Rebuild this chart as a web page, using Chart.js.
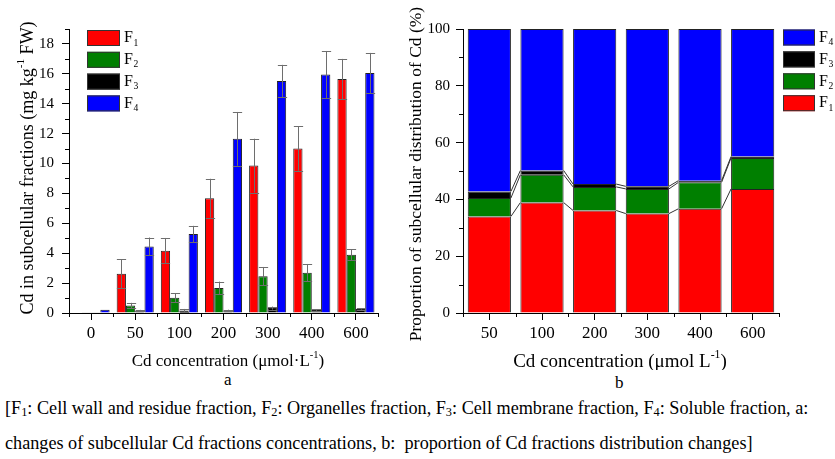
<!DOCTYPE html>
<html>
<head>
<meta charset="utf-8">
<script src="https://cdn.jsdelivr.net/npm/chart.js@4.4.1/dist/chart.umd.min.js"></script>
<style>
  html, body { margin: 0; padding: 0; background: #fff; }
  body { width: 835px; height: 459px; position: relative; overflow: hidden;
         font-family: 'Liberation Serif', 'Times New Roman', serif; color: #000; }
  #chartA { position: absolute; left: 0; top: 0; }
  #chartB { position: absolute; left: 400px; top: 0; }
  .panel { position: absolute; font-size: 17px; white-space: nowrap; }
  .cap { position: absolute; left: 5px; font-size: 18.2px; white-space: nowrap; }
  .cap sub { font-size: 0.68em; vertical-align: -0.2em; line-height: 0; }
</style>
</head>
<body>
<canvas id="chartA" width="400" height="370"></canvas>
<canvas id="chartB" width="435" height="370"></canvas>
<div class="panel" style="left:224px;top:370px">a</div>
<div class="panel" style="left:615px;top:373px">b</div>
<div class="cap" style="top:398px">[F<sub>1</sub>: Cell wall and residue fraction, F<sub>2</sub>: Organelles fraction, F<sub>3</sub>: Cell membrane fraction, F<sub>4</sub>: Soluble fraction, a:</div>
<div class="cap" style="top:433px">changes of subcellular Cd fractions concentrations, b:&nbsp; proportion of Cd fractions distribution changes]</div>

<script>
// ---- Panel a: Cd concentration in each subcellular fraction (mg kg-1 FW) ----
const concLabels = ['0', '50', '100', '200', '300', '400', '600'];
const f1Conc = [0.03, 2.62, 4.17, 7.68, 9.86, 11.0, 15.65];
const f1Err  = [0, 0.98, 0.85, 1.3, 1.8, 1.48, 1.35];
const f2Conc = [0.02, 0.5, 1.02, 1.68, 2.46, 2.7, 3.9];
const f2Err  = [0, 0.18, 0.3, 0.42, 0.62, 0.58, 0.38];
const f3Conc = [0.01, 0.17, 0.17, 0.18, 0.33, 0.2, 0.27];
const f3Err  = [0, 0.04, 0.1, 0.04, 0.1, 0.05, 0.04];
const f4Conc = [0.22, 4.45, 5.28, 11.65, 15.52, 15.95, 16.05];
const f4Err  = [0, 0.6, 0.55, 1.8, 1.08, 1.58, 1.35];

// ---- Panel b: proportion of each fraction (%) ----
const pctLabels = ['50', '100', '200', '300', '400', '600'];
const f1Pct = [34.0, 38.9, 36.1, 35.0, 36.7, 43.7];
const f2Pct = [6.5, 9.8, 8.3, 8.7, 9.3, 10.9];
const f3Pct = [2.3, 1.5, 1.0, 0.9, 0.6, 0.5];
const f4Pct = [57.2, 49.8, 54.6, 55.4, 53.4, 44.9];

const fractionNames = ['F1', 'F2', 'F3', 'F4'];
const fractionColors = ['#ff0000', '#007f00', '#000000', '#0000ff'];

const SERIF = "'Liberation Serif', 'Times New Roman', serif";

// Draw a line of text made of normal / superscript / subscript runs, centred on (x, y).
function drawRich(ctx, segs, x, y, rot, size) {
  ctx.save();
  ctx.translate(x, y);
  ctx.rotate(rot);
  let total = 0;
  const parts = segs.map(s => {
    const fs = (s.sup || s.sub) ? size * 0.62 : size;
    ctx.font = fs + 'px ' + SERIF;
    const w = ctx.measureText(s.t).width;
    total += w;
    return { s, fs, w };
  });
  let cx = -total / 2;
  ctx.textBaseline = 'middle';
  ctx.textAlign = 'left';
  ctx.fillStyle = '#000';
  parts.forEach(p => {
    ctx.font = p.fs + 'px ' + SERIF;
    const dy = p.s.sup ? -size * 0.38 : (p.s.sub ? size * 0.3 : 0);
    ctx.fillText(p.s.t, cx, dy);
    cx += p.w;
  });
  ctx.restore();
}

// Axis titles with super-scripted units.
const axisTitles = {
  id: 'axisTitles',
  afterDraw(chart, args, opts) {
    const ctx = chart.ctx;
    (opts.items || []).forEach(it => drawRich(ctx, it.segs, it.x, it.y, it.rot || 0, it.size));
  }
};

// Short outward minor ticks: half-way between major value ticks, and between categories.
const minorTicks = {
  id: 'minorTicks',
  afterDraw(chart, args, opts) {
    const ctx = chart.ctx;
    const ys = chart.scales.y, xs = chart.scales.x;
    const area = chart.chartArea;
    ctx.save();
    ctx.strokeStyle = '#000';
    ctx.lineWidth = 1;
    ctx.beginPath();
    const tv = ys.ticks.map(t => t.value);
    const step = tv[1] - tv[0];
    for (let v = tv[0] + step / 2; v <= ys.max + 1e-9; v += step) {
      const py = Math.round(ys.getPixelForValue(v)) + 0.5;
      ctx.moveTo(area.left - opts.len, py);
      ctx.lineTo(area.left, py);
    }
    const n = xs.getLabels().length;
    for (let i = 0; i <= n; i++) {
      const px = Math.round(xs.getPixelForValue(i - 0.5)) + 0.5;
      ctx.moveTo(px, area.bottom);
      ctx.lineTo(px, area.bottom + opts.len);
    }
    ctx.stroke();
    ctx.restore();
  }
};

// Standard-deviation whiskers on each bar.
const errorBars = {
  id: 'errorBars',
  afterDatasetsDraw(chart) {
    const ctx = chart.ctx;
    const ys = chart.scales.y;
    ctx.save();
    ctx.strokeStyle = '#6e6e6e';
    ctx.lineWidth = 1;
    chart.data.datasets.forEach((ds, di) => {
      if (!ds.errors) return;
      const meta = chart.getDatasetMeta(di);
      meta.data.forEach((el, i) => {
        const e = ds.errors[i];
        if (!e) return;
        const v = ds.data[i];
        const top = ys.getPixelForValue(v + e);
        const bot = ys.getPixelForValue(Math.max(0, v - e));
        const x = Math.round(el.x) + 0.5;
        const hw = el.width / 2;
        ctx.beginPath();
        ctx.moveTo(x, top); ctx.lineTo(x, bot);
        ctx.moveTo(x - hw, Math.round(top) + 0.5); ctx.lineTo(x + hw, Math.round(top) + 0.5);
        ctx.moveTo(x - hw, Math.round(bot) + 0.5); ctx.lineTo(x + hw, Math.round(bot) + 0.5);
        ctx.stroke();
      });
    });
    ctx.restore();
  }
};

// Lines joining the segment boundaries of neighbouring stacked columns.
const stackLinks = {
  id: 'stackLinks',
  afterDatasetsDraw(chart, args, opts) {
    if (!opts.enabled) return;
    const ctx = chart.ctx;
    const ys = chart.scales.y;
    const sets = chart.data.datasets;
    const meta0 = chart.getDatasetMeta(0);
    const n = sets[0].data.length;
    ctx.save();
    ctx.strokeStyle = '#333';
    ctx.lineWidth = 1;
    for (let k = 0; k < sets.length - 1; k++) {
      const cum = [];
      for (let i = 0; i < n; i++) {
        let s = 0;
        for (let j = 0; j <= k; j++) s += sets[j].data[i];
        cum.push(s);
      }
      for (let i = 0; i < n - 1; i++) {
        const a = meta0.data[i], b = meta0.data[i + 1];
        ctx.beginPath();
        ctx.moveTo(a.x + a.width / 2, ys.getPixelForValue(cum[i]));
        ctx.lineTo(b.x - b.width / 2, ys.getPixelForValue(cum[i + 1]));
        ctx.stroke();
      }
    }
    ctx.restore();
  }
};

// Boxed legend with subscripted series names.
const boxLegend = {
  id: 'boxLegend',
  afterDraw(chart, args, opts) {
    const ctx = chart.ctx;
    const sets = chart.data.datasets;
    opts.order.forEach((di, row) => {
      const ds = sets[di];
      const y = opts.y + row * opts.pitch;
      ctx.save();
      ctx.fillStyle = ds.backgroundColor;
      ctx.fillRect(opts.x, y, opts.w, opts.h);
      ctx.strokeStyle = '#333';
      ctx.lineWidth = 1;
      ctx.strokeRect(opts.x + 0.5, y + 0.5, opts.w - 1, opts.h - 1);
      ctx.fillStyle = '#000';
      ctx.textBaseline = 'middle';
      ctx.textAlign = 'left';
      ctx.font = opts.size + 'px ' + SERIF;
      const tx = opts.x + opts.w + 4;
      const ty = y + opts.h / 2;
      ctx.fillText(ds.label.charAt(0), tx, ty);
      const fw = ctx.measureText(ds.label.charAt(0)).width;
      ctx.font = (opts.size * 0.6) + 'px ' + SERIF;
      ctx.fillText(ds.label.slice(1), tx + fw + 0.5, ty + opts.size * 0.32);
      ctx.restore();
    });
  }
};

Chart.defaults.font.family = SERIF;
Chart.defaults.color = '#000';

function axisCommon(tickSize, tickLen, pad) {
  return {
    border: { display: true, color: '#000', width: 1 },
    grid: { drawOnChartArea: false, drawTicks: true, tickLength: tickLen, color: '#000', offset: false },
    ticks: { font: { size: tickSize }, color: '#000', padding: pad }
  };
}

// ---------- Panel a ----------
const concSeries = [
  [f1Conc, f1Err], [f2Conc, f2Err], [f3Conc, f3Err], [f4Conc, f4Err]
];
const xA = axisCommon(17, 7, 3);
xA.afterFit = s => { s.height = 57; };
const yA = axisCommon(15, 7, 8);
yA.min = 0; yA.max = 19;
yA.ticks.stepSize = 2;
yA.ticks.includeBounds = false;
yA.afterFit = s => { s.width = 69; };

new Chart(document.getElementById('chartA'), {
  type: 'bar',
  data: {
    labels: concLabels,
    datasets: concSeries.map((s, i) => ({
      label: fractionNames[i],
      data: s[0],
      errors: s[1],
      backgroundColor: fractionColors[i],
      borderColor: '#222',
      borderWidth: 1,
      categoryPercentage: 0.84,
      barPercentage: 1.0
    }))
  },
  options: {
    responsive: false,
    animation: false,
    layout: { padding: { top: 29, right: 22, left: 0, bottom: 0 } },
    scales: { x: xA, y: yA },
    plugins: {
      legend: { display: false },
      tooltip: { enabled: false },
      minorTicks: { len: 4 },
      boxLegend: { order: [0, 1, 2, 3], x: 87, y: 30, pitch: 21.8, w: 33, h: 16, size: 16 },
      axisTitles: {
        items: [
          { segs: [{ t: 'Cd in subcellular fractions (mg kg' }, { t: '-1', sup: true }, { t: ' FW)' }],
            x: 28, y: 168, rot: -Math.PI / 2, size: 18 },
          { segs: [{ t: 'Cd concentration (\u03bcmol\u00b7L' }, { t: '-1', sup: true }, { t: ')' }],
            x: 228, y: 362, size: 17 }
        ]
      }
    }
  },
  plugins: [errorBars, minorTicks, boxLegend, axisTitles]
});

// ---------- Panel b ----------
const pctSeries = [f1Pct, f2Pct, f3Pct, f4Pct];
const xB = axisCommon(17, 7, 3);
xB.stacked = true;
xB.afterFit = s => { s.height = 57; };
const yB = axisCommon(15, 7, 6);
yB.stacked = true;
yB.min = 0; yB.max = 100;
yB.ticks.stepSize = 20;
yB.afterFit = s => { s.width = 63; };

new Chart(document.getElementById('chartB'), {
  type: 'bar',
  data: {
    labels: pctLabels,
    datasets: pctSeries.map((d, i) => ({
      label: fractionNames[i],
      data: d,
      backgroundColor: fractionColors[i],
      borderColor: '#222',
      borderWidth: 1,
      categoryPercentage: 1.0,
      barPercentage: 0.82
    }))
  },
  options: {
    responsive: false,
    animation: false,
    layout: { padding: { top: 29, right: 56, left: 0, bottom: 0 } },
    scales: { x: xB, y: yB },
    plugins: {
      legend: { display: false },
      tooltip: { enabled: false },
      minorTicks: { len: 4 },
      stackLinks: { enabled: true },
      boxLegend: { order: [3, 2, 1, 0], x: 383, y: 29.5, pitch: 21.9, w: 32, h: 16, size: 16 },
      axisTitles: {
        items: [
          { segs: [{ t: 'Proportion of subcellular distribution of Cd (%)' }],
            x: 16, y: 174, rot: -Math.PI / 2, size: 17.5 },
          { segs: [{ t: 'Cd concentration (\u03bcmol L' }, { t: '-1', sup: true }, { t: ')' }],
            x: 220, y: 362, size: 19 }
        ]
      }
    }
  },
  plugins: [stackLinks, minorTicks, boxLegend, axisTitles]
});
</script>
</body>
</html>
